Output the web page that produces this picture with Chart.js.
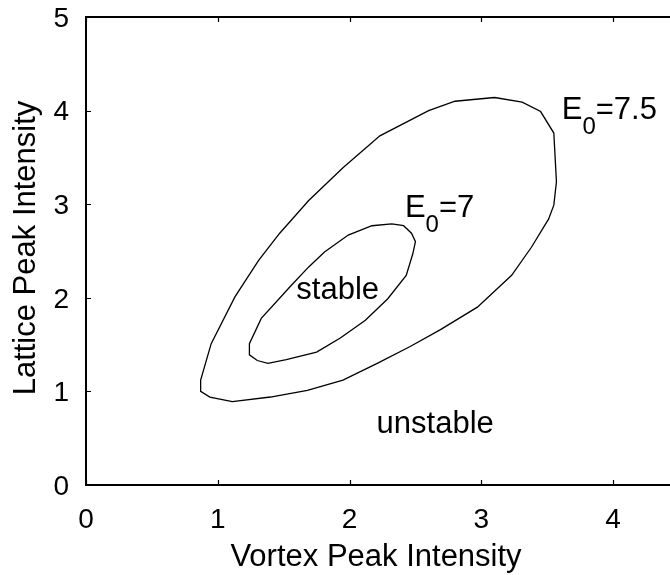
<!DOCTYPE html>
<html>
<head>
<meta charset="utf-8">
<script src="https://cdn.jsdelivr.net/npm/chart.js@4/dist/chart.umd.min.js"></script>
<style>
  html, body { margin: 0; padding: 0; overflow: hidden; background: #fff; }
  #wrap { width: 690px; height: 575px; }
</style>
</head>
<body>
<div id="wrap"><canvas id="c" width="690" height="575"></canvas></div>
<script>
// Stability boundaries in the (vortex, lattice) peak-intensity plane
const innerX = [2.32, 2.17, 1.99, 1.81, 1.69, 1.55, 1.33, 1.24, 1.24, 1.30, 1.38, 1.52, 1.75, 1.93, 2.12, 2.29, 2.43, 2.48, 2.50, 2.47, 2.41, 2.32];
const innerY = [2.79, 2.77, 2.67, 2.49, 2.33, 2.12, 1.78, 1.51, 1.39, 1.33, 1.30, 1.34, 1.42, 1.57, 1.76, 1.99, 2.24, 2.47, 2.60, 2.69, 2.77, 2.79];

const outerX = [3.10, 3.31, 3.45, 3.55, 3.57, 3.55, 3.51, 3.38, 3.23, 2.97, 2.69, 2.46, 2.21, 1.95, 1.68, 1.40, 1.11, 0.94, 0.87, 0.87, 0.95, 1.13, 1.31, 1.47, 1.69, 1.95, 2.23, 2.60, 2.80, 3.10];
const outerY = [4.14, 4.09, 3.99, 3.76, 3.24, 2.99, 2.84, 2.54, 2.24, 1.90, 1.66, 1.48, 1.30, 1.12, 1.01, 0.94, 0.89, 0.94, 1.00, 1.12, 1.51, 2.01, 2.40, 2.69, 3.04, 3.39, 3.73, 4.00, 4.10, 4.14];

const xTicks = [0, 1, 2, 3, 4];
const yTicks = [0, 1, 2, 3, 4, 5];

const xTitle = 'Vortex Peak Intensity';
const yTitle = 'Lattice Peak Intensity';

const FONT = "'Liberation Sans', Arial, Helvetica, sans-serif";

const zip = (xs, ys) => xs.map((x, i) => ({ x: x, y: ys[i] }));

// Frame, inward tick marks, axis titles and region labels
const decorations = {
  id: 'decorations',
  afterDatasetsDraw(chart) {
    const ctx = chart.ctx;
    const a = chart.chartArea;
    const sx = chart.scales.x, sy = chart.scales.y;
    ctx.save();
    ctx.strokeStyle = '#000';
    ctx.lineWidth = 2;
    ctx.strokeRect(a.left, a.top, a.right - a.left, a.bottom - a.top);

    ctx.lineWidth = 1.2;
    const tl = 5;
    ctx.beginPath();
    xTicks.forEach(v => {
      const px = Math.round(sx.getPixelForValue(v)) + 0.5;
      ctx.moveTo(px, a.bottom); ctx.lineTo(px, a.bottom - tl);
      ctx.moveTo(px, a.top); ctx.lineTo(px, a.top + tl);
    });
    yTicks.forEach(v => {
      const py = Math.round(sy.getPixelForValue(v)) + 0.5;
      ctx.moveTo(a.left, py); ctx.lineTo(a.left + tl, py);
      ctx.moveTo(a.right, py); ctx.lineTo(a.right - tl, py);
    });
    ctx.stroke();

    ctx.fillStyle = '#000';
    ctx.font = '31px ' + FONT;
    ctx.textBaseline = 'alphabetic';
    ctx.textAlign = 'center';
    ctx.fillText(xTitle, 376, 566);

    ctx.save();
    ctx.translate(35, 248);
    ctx.rotate(-Math.PI / 2);
    ctx.fillText(yTitle, 0, 0);
    ctx.restore();

    // region labels
    ctx.font = '31px ' + FONT;
    ctx.fillText('stable', sx.getPixelForValue(1.91), sy.getPixelForValue(1.99));
    ctx.fillText('unstable', sx.getPixelForValue(2.65), sy.getPixelForValue(0.555));

    // curve labels with subscript
    const sub = (left, base, value) => {
      ctx.textAlign = 'left';
      let x = sx.getPixelForValue(left);
      const y = sy.getPixelForValue(base);
      ctx.font = '31px ' + FONT;
      ctx.fillText('E', x, y);
      x += ctx.measureText('E').width;
      ctx.font = '24px ' + FONT;
      ctx.fillText('0', x, y + 15);
      x += ctx.measureText('0').width;
      ctx.font = '31px ' + FONT;
      ctx.fillText('=' + value, x, y);
    };
    sub(3.61, 3.905, '7.5');
    sub(2.42, 2.86, '7');
    ctx.restore();
  }
};

new Chart(document.getElementById('c'), {
  type: 'scatter',
  data: {
    datasets: [
      { label: 'E0=7', data: zip(innerX, innerY), showLine: true, borderColor: '#000', borderWidth: 1.3, pointRadius: 0, fill: false, tension: 0 },
      { label: 'E0=7.5', data: zip(outerX, outerY), showLine: true, borderColor: '#000', borderWidth: 1.3, pointRadius: 0, fill: false, tension: 0 }
    ]
  },
  options: {
    responsive: false,
    animation: false,
    events: [],
    layout: { padding: { left: 0, top: 17, right: 11, bottom: 0 } },
    plugins: { legend: { display: false }, tooltip: { enabled: false } },
    scales: {
      x: {
        type: 'linear', min: 0, max: 4.5,
        grid: { display: false }, border: { display: false },
        afterBuildTicks: s => { s.ticks = xTicks.map(v => ({ value: v })); },
        afterFit: s => { s.height = 90; s.paddingLeft = 0; s.paddingRight = 0; },
        ticks: { color: '#000', font: { family: FONT, size: 28 }, padding: 10, maxRotation: 0 }
      },
      y: {
        type: 'linear', min: 0, max: 5,
        grid: { display: false }, border: { display: false },
        afterBuildTicks: s => { s.ticks = yTicks.map(v => ({ value: v })); },
        afterFit: s => { s.width = 86; s.paddingTop = 0; s.paddingBottom = 0; },
        ticks: { color: '#000', font: { family: FONT, size: 28 }, padding: 9, labelOffset: 2 }
      }
    }
  },
  plugins: [decorations]
});
</script>
</body>
</html>
